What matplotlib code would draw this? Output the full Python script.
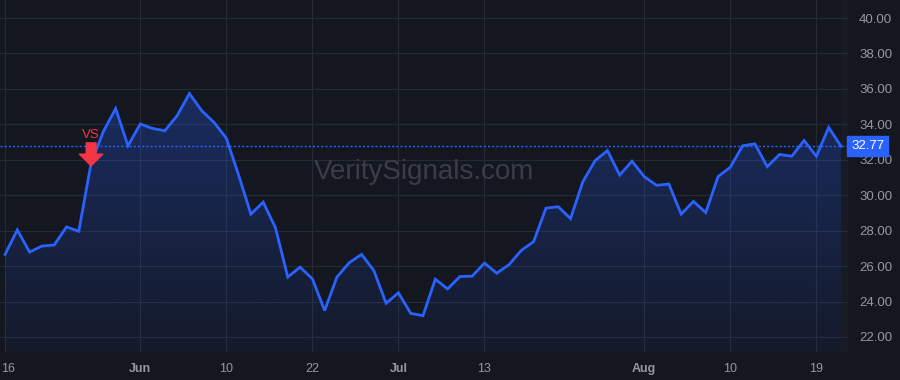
import matplotlib
matplotlib.use('Agg')
import matplotlib.pyplot as plt
import numpy as np
from matplotlib.colors import to_rgb
import matplotlib.transforms as mtransforms

# closing values, one per session
prices = [26.66, 28.04, 26.79, 27.13, 27.19, 28.21, 27.97, 31.81, 33.60, 34.89,
          32.79, 34.02, 33.77, 33.64, 34.49, 35.74, 34.77, 34.11, 33.22, 31.14,
          28.93, 29.61, 28.16, 25.38, 25.94, 25.28, 23.49, 25.38, 26.19, 26.66,
          25.75, 23.90, 24.49, 23.33, 23.20, 25.26, 24.71, 25.41, 25.43, 26.17,
          25.60, 26.08, 26.89, 27.38, 29.27, 29.35, 28.68, 30.76, 31.95, 32.52,
          31.14, 31.92, 31.05, 30.56, 30.63, 28.93, 29.65, 29.02, 31.05, 31.58,
          32.79, 32.90, 31.61, 32.30, 32.20, 33.09, 32.20, 33.83, 32.77]
tick_pos = [0, 11, 18, 25, 32, 39, 52, 59, 66]
tick_labels = ["16", "Jun", "10", "22", "Jul", "13", "Aug", "10", "19"]
y_ticks = [22, 24, 26, 28, 30, 32, 34, 36, 38, 40]
signal_idx = 7
signal_label = "VS"
last_price = 32.77

bg = '#141720'
grid_c = '#262a35'
line_c = '#2962ff'
txt_c = '#9598a1'
red = '#f23645'

x = np.arange(len(prices))
y = np.array(prices)

fig = plt.figure(figsize=(9, 3.8), dpi=100, facecolor=bg)
ax = fig.add_axes([0, 0.0737, 0.9422, 0.9263])
ax.set_facecolor(bg)

x0, x1 = -0.41, 68.57
y0, y1 = 21.15, 41.02
ax.set_xlim(x0, x1)
ax.set_ylim(y0, y1)

# slightly lighter strip right of last bar
ax.axvspan(x[-1], x1, color='#181b24', zorder=0, lw=0)

# gradient fill under the line
poly = ax.fill_between(x, y, y0, color='none', lw=0)
rgb = to_rgb(line_c)
n = 256
alphas = np.linspace(0.05, 0.30, n)[:, None]
grad = np.zeros((n, 1, 4))
grad[:, :, 0] = rgb[0]
grad[:, :, 1] = rgb[1]
grad[:, :, 2] = rgb[2]
grad[:, :, 3] = alphas
im = ax.imshow(grad, aspect='auto', origin='lower', extent=[x[0], x[-1], y0, 36.5],
               zorder=1)
im.set_clip_path(poly.get_paths()[0], transform=ax.transData)

ax.plot(x, y, color=line_c, lw=2, zorder=3, solid_joinstyle='miter')

# last price dotted line and label
ax.axhline(last_price, color=line_c, lw=1, ls=(0, (1.5, 1.5)), zorder=2)
trans = mtransforms.blended_transform_factory(ax.transAxes, ax.transData)
ax.text(1.004, last_price, f"{last_price:.2f}", transform=trans, color='white',
        fontsize=9.5, va='center', ha='left', family='Liberation Sans',
        bbox=dict(boxstyle='square,pad=0.3', fc=line_c, ec=line_c), zorder=5,
        clip_on=False)

# signal marker
ax.annotate('', xy=(x[signal_idx], prices[signal_idx] - 0.15), xytext=(0, 16.5),
            textcoords='offset points',
            arrowprops=dict(arrowstyle='simple,head_length=0.6,head_width=1.2,tail_width=0.5',
                            color=red, shrinkA=0, shrinkB=0, mutation_scale=14),
            zorder=6)
ax.annotate(signal_label, xy=(x[signal_idx], prices[signal_idx]), xytext=(0, 20),
            textcoords='offset points', ha='center', va='center', color=red,
            fontsize=9.5, family='Liberation Sans', zorder=6)

# watermark
ax.text(0.5, 0.51, "VeritySignals.com", transform=ax.transAxes, ha='center',
        va='center', fontsize=20, color='#3a3d48', family='Liberation Sans', zorder=2)

ax.set_xticks(tick_pos)
ax.set_xticklabels(tick_labels)
ax.set_yticks(y_ticks)
ax.set_yticklabels([f"{v:.2f}" for v in y_ticks])
ax.yaxis.tick_right()
ax.tick_params(axis='y', length=0, pad=8, labelsize=9.5, labelcolor=txt_c)
ax.tick_params(axis='x', length=0, pad=8, labelsize=9, labelcolor=txt_c)
for lab in ax.get_xticklabels() + ax.get_yticklabels():
    lab.set_family('Liberation Sans')
for lab, t in zip(ax.get_xticklabels(), tick_labels):
    if not t.isdigit():
        lab.set_fontweight('bold')
# keep the first date label inside the figure
first = ax.get_xticklabels()[0]
first.set_horizontalalignment('left')
first.set_transform(first.get_transform() +
                    mtransforms.ScaledTranslation(-4 / 100, 0, fig.dpi_scale_trans))

ax.grid(True, color=grid_c, lw=0.8, zorder=0)
ax.set_axisbelow(True)
for s in ax.spines.values():
    s.set_visible(False)

fig.savefig('out.png', dpi=100, facecolor=bg)
